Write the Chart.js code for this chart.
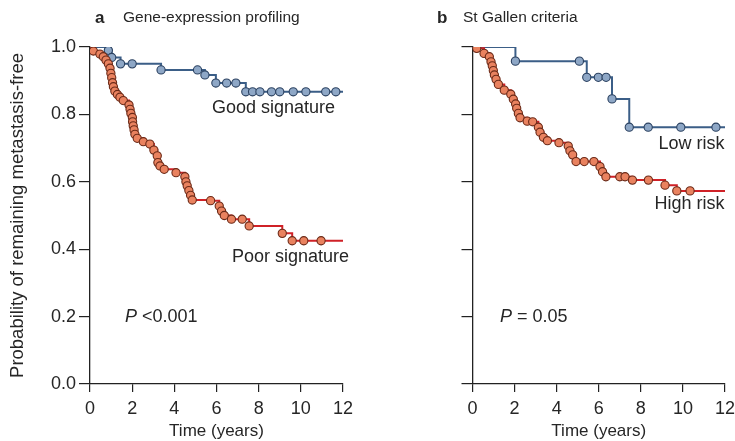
<!DOCTYPE html>
<html>
<head>
<meta charset="utf-8">
<script src="https://cdn.jsdelivr.net/npm/chart.js@4/dist/chart.umd.min.js"></script>
<style>
  html, body { margin: 0; padding: 0; background: #fff; }
  #wrap { position: relative; width: 735px; height: 441px; overflow: hidden; }
  canvas { position: absolute; top: 0; }
  #ca { left: 0; }
  #cb { left: 367px; }
</style>
</head>
<body>
<div id="wrap">
  <canvas id="ca" width="367" height="441"></canvas>
  <canvas id="cb" width="390" height="441"></canvas>
</div>
<script>
// ---- Data (time in years, survival probability) ----
const xTicks = [0, 2, 4, 6, 8, 10, 12];
const yTicks = [0.0, 0.2, 0.4, 0.6, 0.8, 1.0];

// Panel a: Gene-expression profiling
const goodT = [0.87, 1.03, 1.45, 2.0, 3.37, 5.1, 5.45, 5.97, 6.48, 6.92, 7.39, 7.71, 8.06, 8.61, 9.0, 9.64, 10.24, 11.18, 11.66];
const goodS = [0.990, 0.969, 0.950, 0.950, 0.932, 0.932, 0.917, 0.893, 0.893, 0.893, 0.867, 0.867, 0.867, 0.867, 0.867, 0.867, 0.867, 0.867, 0.867];

const poorT = [0.16, 0.47, 0.63, 0.76, 0.87, 0.95, 0.99, 1.03, 1.07, 1.11, 1.18, 1.30, 1.42, 1.58, 1.85, 1.90, 1.94, 2.01, 2.02, 2.05, 2.09, 2.13, 2.24, 2.53, 2.84, 3.03, 3.19, 3.22, 3.32, 3.52, 4.08, 4.50, 4.55, 4.61, 4.69, 4.77, 4.85, 5.72, 6.13, 6.24, 6.37, 6.71, 7.22, 7.55, 9.12, 9.59, 10.14, 10.96];
const poorS = [0.988, 0.979, 0.971, 0.961, 0.950, 0.937, 0.922, 0.909, 0.894, 0.882, 0.869, 0.859, 0.851, 0.841, 0.828, 0.815, 0.803, 0.791, 0.778, 0.766, 0.754, 0.741, 0.729, 0.719, 0.712, 0.694, 0.677, 0.657, 0.647, 0.637, 0.627, 0.615, 0.600, 0.588, 0.574, 0.560, 0.546, 0.544, 0.528, 0.513, 0.500, 0.489, 0.489, 0.469, 0.447, 0.425, 0.425, 0.425];

// Panel b: St Gallen criteria
const lowT = [2.04, 5.08, 5.43, 5.98, 6.35, 6.63, 7.45, 8.35, 9.90, 11.57];
const lowS = [0.958, 0.958, 0.910, 0.910, 0.910, 0.846, 0.762, 0.762, 0.762, 0.762];

const highT = [0.20, 0.55, 0.80, 0.88, 0.94, 0.99, 1.04, 1.12, 1.23, 1.51, 1.82, 1.94, 2.05, 2.10, 2.18, 2.26, 2.60, 2.86, 3.13, 3.21, 3.37, 3.56, 4.11, 4.55, 4.63, 4.76, 4.92, 5.31, 5.77, 6.06, 6.18, 6.34, 7.0, 7.25, 7.6, 8.36, 9.15, 9.71, 10.34];
const highS = [0.996, 0.981, 0.971, 0.956, 0.944, 0.930, 0.917, 0.904, 0.889, 0.872, 0.860, 0.845, 0.831, 0.818, 0.803, 0.790, 0.780, 0.778, 0.762, 0.747, 0.732, 0.722, 0.716, 0.706, 0.692, 0.680, 0.660, 0.660, 0.660, 0.645, 0.630, 0.615, 0.615, 0.615, 0.605, 0.605, 0.590, 0.573, 0.573];

const xMax = 12;

// ---- Styles ----
const FONT = "'Liberation Sans', Arial, sans-serif";
const TXT = '#262626';
const AX = '#222';
const BLUE_LINE = '#3b5e87', BLUE_FILL = '#8ea7c6', BLUE_EDGE = '#2c4261';
const RED_LINE = '#cf2127', RED_FILL = '#e9825f', RED_EDGE = '#6b2a18';

Chart.defaults.font.family = FONT;
Chart.defaults.color = TXT;

function pts(T, S) { return T.map((t, i) => ({ x: t, y: S[i] })); }
function stepLine(T, S) {
  return [{ x: 0, y: 1 }].concat(pts(T, S), [{ x: xMax, y: S[S.length - 1] }]);
}
function lineDs(T, S, color, order) {
  return { type: 'scatter', data: stepLine(T, S), showLine: true, stepped: true,
    borderColor: color, borderWidth: 2, pointRadius: 0, pointHoverRadius: 0, order: order };
}
function markDs(T, S, fill, edge, order) {
  return { type: 'scatter', data: pts(T, S), showLine: false,
    backgroundColor: fill, borderColor: edge, pointBorderWidth: 1.1, pointRadius: 4.1, order: order };
}

function textPlugin(items) {
  return {
    id: 'txt',
    afterDraw(chart) {
      const ctx = chart.ctx;
      const xs = chart.scales.x, ys = chart.scales.y;
      ctx.save();
      ctx.fillStyle = TXT;
      ctx.textBaseline = 'middle';
      items.forEach(it => {
        let x = it.px !== undefined ? it.px : xs.getPixelForValue(it.x);
        let y = it.py !== undefined ? it.py : ys.getPixelForValue(it.y);
        ctx.textAlign = it.align || 'left';
        if (it.parts) {
          ctx.textAlign = 'left';
          it.parts.forEach(p => {
            ctx.font = p.font;
            ctx.fillText(p.t, x, y);
            x += ctx.measureText(p.t).width;
          });
        } else {
          ctx.font = it.font;
          ctx.fillText(it.t, x, y);
        }
      });
      ctx.restore();
    }
  };
}

function makeOptions(showYLabels, yWidth, padRight) {
  return {
    responsive: false,
    animation: false,
    devicePixelRatio: 1,
    layout: { padding: { left: 0, right: padRight, top: 47, bottom: 0 } },
    plugins: { legend: { display: false }, tooltip: { enabled: false }, title: { display: false } },
    scales: {
      x: {
        type: 'linear', min: 0, max: xMax,
        afterBuildTicks: s => { s.ticks = xTicks.map(v => ({ value: v })); },
        ticks: { font: { size: 18 }, color: TXT, padding: 6, maxRotation: 0, callback: v => String(v) },
        grid: { drawOnChartArea: false, drawTicks: true, tickLength: 8, color: AX, lineWidth: 1.2 },
        border: { display: true, color: AX, width: 1.3 },
        title: { display: true, text: 'Time (years)', font: { size: 17 }, color: TXT, padding: { top: 0, bottom: -1 } },
        afterFit: s => { s.height = 57; }
      },
      y: {
        type: 'linear', min: 0, max: 1,
        afterBuildTicks: s => { s.ticks = yTicks.map(v => ({ value: v })); },
        ticks: { display: showYLabels, font: { size: 18 }, color: TXT, padding: 3, callback: v => Number(v).toFixed(1) },
        grid: { drawOnChartArea: false, drawTicks: true, tickLength: 11, color: AX, lineWidth: 1.2 },
        border: { display: true, color: AX, width: 1.3 },
        title: { display: showYLabels, text: 'Probability of remaining metastasis-free', font: { size: 18.5 }, color: TXT, padding: { top: 7, bottom: 0 } },
        afterFit: s => { s.width = yWidth; }
      }
    }
  };
}

// Panel a
new Chart(document.getElementById('ca'), {
  type: 'scatter',
  data: { datasets: [
    lineDs(goodT, goodS, BLUE_LINE, 4),
    markDs(goodT, goodS, BLUE_FILL, BLUE_EDGE, 3),
    lineDs(poorT, poorS, RED_LINE, 2),
    markDs(poorT, poorS, RED_FILL, RED_EDGE, 1)
  ] },
  options: makeOptions(true, 90, 24),
  plugins: [textPlugin([
    { t: 'a', font: 'bold 17px ' + FONT, px: 95, py: 18 },
    { t: 'Gene-expression profiling', font: '15.5px ' + FONT, px: 123, py: 18 },
    { t: 'Good signature', font: '18px ' + FONT, x: 11.62, y: 0.819, align: 'right' },
    { t: 'Poor signature', font: '18px ' + FONT, x: 12.29, y: 0.377, align: 'right' },
    { parts: [{ t: 'P', font: 'italic 18px ' + FONT }, { t: ' <0.001', font: '18px ' + FONT }], x: 1.66, y: 0.199 }
  ])]
});

// Panel b
new Chart(document.getElementById('cb'), {
  type: 'scatter',
  data: { datasets: [
    lineDs(lowT, lowS, BLUE_LINE, 4),
    markDs(lowT, lowS, BLUE_FILL, BLUE_EDGE, 3),
    lineDs(highT, highS, RED_LINE, 2),
    markDs(highT, highS, RED_FILL, RED_EDGE, 1)
  ] },
  options: makeOptions(false, 105.5, 32),
  plugins: [textPlugin([
    { t: 'b', font: 'bold 17px ' + FONT, px: 70, py: 18 },
    { t: 'St Gallen criteria', font: '15.5px ' + FONT, px: 96, py: 18 },
    { t: 'Low risk', font: '18px ' + FONT, x: 11.98, y: 0.711, align: 'right' },
    { t: 'High risk', font: '18px ' + FONT, x: 11.98, y: 0.534, align: 'right' },
    { parts: [{ t: 'P', font: 'italic 18px ' + FONT }, { t: ' = 0.05', font: '18px ' + FONT }], x: 1.31, y: 0.199 }
  ])]
});
</script>
</body>
</html>
